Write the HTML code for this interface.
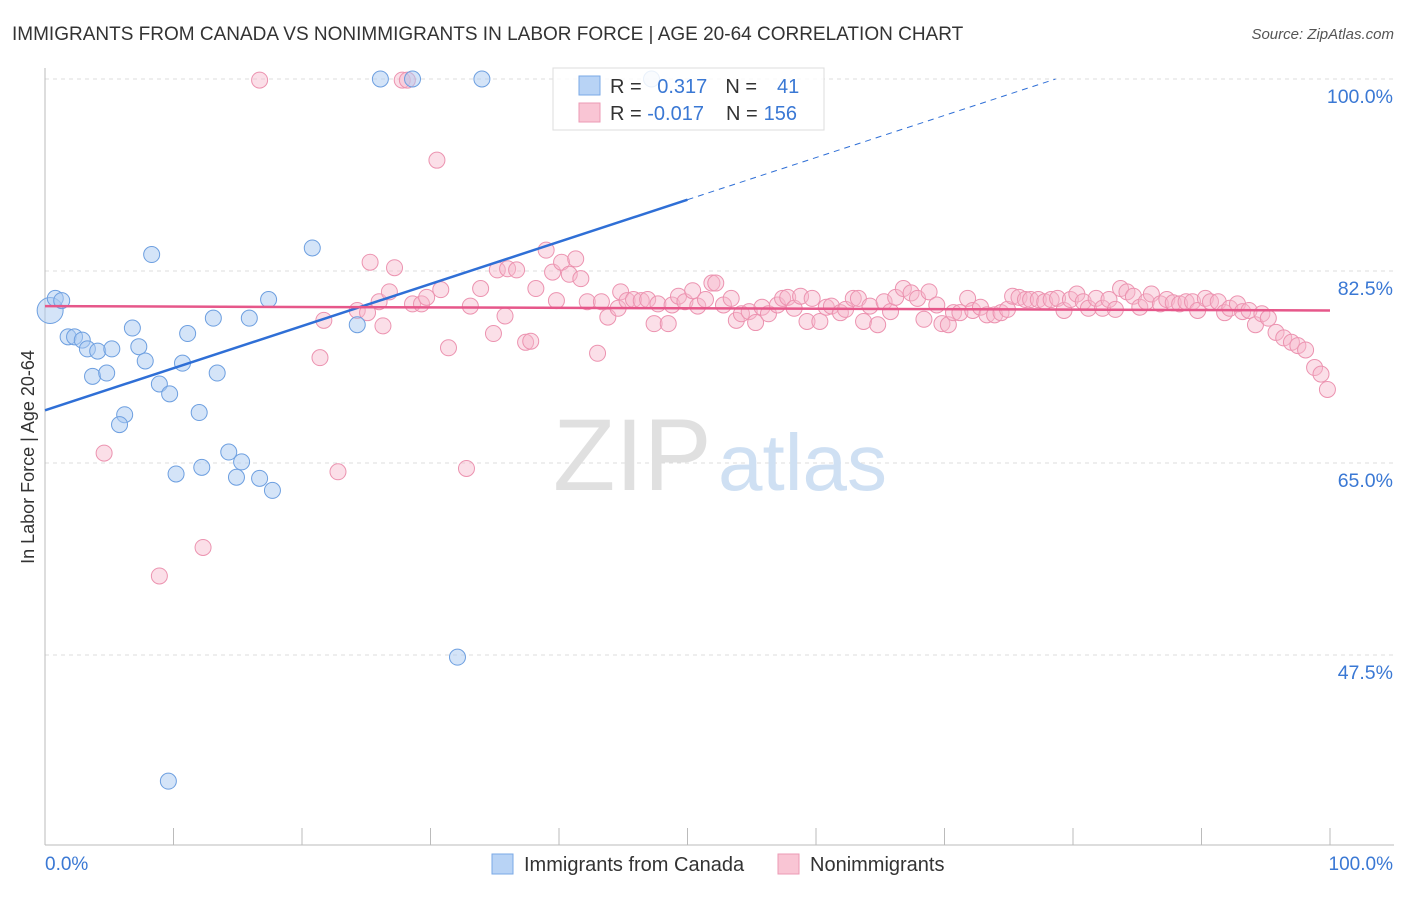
<!DOCTYPE html>
<html><head><meta charset="utf-8"><style>
body{margin:0;background:#fff;font-family:"Liberation Sans",sans-serif;}
svg text{font-family:"Liberation Sans",sans-serif;}
</style></head><body>
<svg id="chart" width="1406" height="892" xmlns="http://www.w3.org/2000/svg">
<text x="12" y="40" font-size="19" fill="#333">IMMIGRANTS FROM CANADA VS NONIMMIGRANTS IN LABOR FORCE | AGE 20-64 CORRELATION CHART</text>
<text x="1394" y="39" font-size="15" fill="#555" text-anchor="end" font-style="italic">Source: ZipAtlas.com</text>
<text transform="translate(34,457) rotate(-90)" font-size="18" fill="#333" text-anchor="middle">In Labor Force | Age 20-64</text>
<g id="grid"></g>
<g id="axes"></g>
<text x="553" y="490" font-size="102" fill="#e0e0e0" font-family="Liberation Serif">ZIP</text>
<text x="718" y="490" font-size="80" fill="#cfe0f3">atlas</text>
<g id="marks"></g>
<g>
<rect x="553" y="68" width="271" height="62" fill="#fff" fill-opacity="0.85" stroke="#ddd"/>
<rect x="579" y="76" width="21" height="19" fill="#b8d3f5" stroke="#7aa8e6"/>
<rect x="579" y="103" width="21" height="19" fill="#f9c5d4" stroke="#ec9ab4"/>
<text x="610" y="93" font-size="20" fill="#333">R = <tspan fill="#3a78d4" dx="10">0.317</tspan><tspan dx="18" fill="#333">N =</tspan><tspan dx="20" fill="#3a78d4">41</tspan></text>
<text x="610" y="120" font-size="20" fill="#333">R = <tspan fill="#3a78d4">-0.017</tspan><tspan dx="22" fill="#333">N =</tspan><tspan dx="6" fill="#3a78d4">156</tspan></text>
</g>
<g>
<rect x="492" y="854" width="21" height="20" fill="#b8d3f5" stroke="#7aa8e6"/>
<text x="524" y="871" font-size="20" fill="#333">Immigrants from Canada</text>
<rect x="778" y="854" width="21" height="20" fill="#f9c5d4" stroke="#ec9ab4"/>
<text x="810" y="871" font-size="20" fill="#333">Nonimmigrants</text>
</g>
</svg>
<script>
const yTicks=[100,82.5,65,47.5];
const yTickLabels=["100.0%","82.5%","65.0%","47.5%"];
const canX=[0.4,0.8,1.3,1.8,2.3,2.9,3.3,4.1,3.7,4.8,5.2,6.2,5.8,6.8,7.3,7.8,8.3,8.9,9.7,10.2,10.7,11.1,12.0,12.2,13.1,13.4,14.3,14.9,15.3,15.9,16.7,17.4,17.7,20.8,24.3,26.1,28.6,34.0,32.1,9.6,47.2];
const canY=[78.9,80.0,79.8,76.5,76.5,76.2,75.4,75.2,72.9,73.2,75.4,69.4,68.5,77.3,75.6,74.3,84.0,72.2,71.3,64.0,74.1,76.8,69.6,64.6,78.2,73.2,66.0,63.7,65.1,78.2,63.6,79.9,62.5,84.6,77.6,100,100,100,47.3,36.0,100];
const nonX=[16.7,27.8,28.2,30.5,4.6,8.9,12.3,22.8,32.8,21.4,25.3,27.2,21.7,24.3,25.1,26.0,26.3,26.8,28.6,29.3,29.7,30.8,31.4,33.1,33.9,34.9,35.2,36.0,36.7,35.8,37.4,37.8,38.2,39.0,39.5,40.2,40.8,41.3,41.7,39.8,42.2,43.0,43.3,43.8,44.6,44.8,45.3,45.8,46.4,46.9,47.4,47.7,48.5,48.8,49.3,49.8,50.4,50.8,51.4,51.9,52.2,52.8,53.4,53.8,54.2,54.8,55.3,55.8,56.3,57.0,57.4,57.8,58.3,58.8,59.3,59.7,60.3,60.8,61.2,61.9,62.3,62.9,63.3,63.7,64.2,64.8,65.3,65.8,66.2,66.8,67.4,67.9,68.4,68.8,69.4,69.8,70.3,70.7,71.2,71.8,72.2,72.8,73.3,73.9,74.4,74.9,75.3,75.8,76.3,76.7,77.3,77.8,78.3,78.8,79.3,79.8,80.3,80.8,81.2,81.8,82.3,82.8,83.3,83.7,84.2,84.7,85.2,85.7,86.1,86.8,87.3,87.8,88.3,88.8,89.3,89.7,90.3,90.7,91.3,91.8,92.2,92.8,93.2,93.7,94.2,94.7,95.2,95.8,96.4,97.0,97.5,98.1,98.8,99.3,99.8];
const nonY=[99.9,99.9,99.9,92.6,65.9,54.7,57.3,64.2,64.5,74.6,83.3,82.8,78.0,78.9,78.7,79.7,77.5,80.6,79.5,79.5,80.1,80.8,75.5,79.3,80.9,76.8,82.6,82.7,82.6,78.4,76.0,76.1,80.9,84.4,82.4,83.3,82.2,83.6,81.8,79.8,79.7,75.0,79.7,78.3,79.1,80.6,79.8,79.9,79.8,79.9,77.7,79.5,77.7,79.4,80.2,79.7,80.7,79.3,79.9,81.4,81.4,79.4,80.0,78.0,78.6,78.8,77.8,79.2,78.6,79.4,80.0,80.1,79.1,80.2,77.9,80.0,77.9,79.2,79.3,78.7,79.0,80.0,80.0,77.9,79.3,77.6,79.7,78.8,80.1,80.9,80.5,80.0,78.1,80.6,79.4,77.7,77.6,78.7,78.7,80.0,78.9,79.2,78.5,78.5,78.7,79.0,80.2,80.1,79.9,79.9,79.9,79.7,79.9,80.0,78.9,79.9,80.4,79.7,79.1,80.0,79.1,79.9,79.0,80.9,80.6,80.2,79.2,79.7,80.4,79.5,79.9,79.6,79.5,79.7,79.7,78.9,80.0,79.7,79.7,78.7,79.1,79.5,78.8,78.9,77.6,78.6,78.2,76.9,76.4,76.0,75.7,75.3,73.7,73.1,71.7];
const canTrend=[69.8,0.384];
const nonTrend=[79.3,-0.004];
const NS="http://www.w3.org/2000/svg";
const X=v=>45+v*12.85, Y=v=>79+(100-v)*10.971;
function mk(tag,attrs,parent){const e=document.createElementNS(NS,tag);for(const k in attrs)e.setAttribute(k,attrs[k]);parent.appendChild(e);return e;}
const grid=document.getElementById('grid'),axes=document.getElementById('axes'),marks=document.getElementById('marks');
yTicks.forEach((t,i)=>{
 const l=mk('line',{x1:45,x2:1394,y1:Y(t),y2:Y(t),stroke:'#ddd','stroke-dasharray':'4,4'},grid);
 
 
 const tx=mk('text',{x:1393,y:Y(t)+24,'font-size':19.5,fill:'#3a78d4','text-anchor':'end'},axes);
 tx.textContent=yTickLabels[i];
 
 
});
mk('line',{x1:45,x2:45,y1:68,y2:845,stroke:'#bbb'},axes);
mk('line',{x1:45,x2:1394,y1:845,y2:845,stroke:'#bbb'},axes);
for(let i=0;i<=10;i++){const t=mk('line',{x1:X(i*10),x2:X(i*10),y1:828,y2:845,stroke:'#bbb'},axes);
 
 }
let t0=mk('text',{x:45,y:870,'font-size':19,fill:'#3a78d4'},axes);t0.textContent='0.0%';


let t1=mk('text',{x:1393,y:870,'font-size':19,fill:'#3a78d4','text-anchor':'end'},axes);t1.textContent='100.0%';


nonX.forEach((x,i)=>{const c=mk('circle',{cx:X(x),cy:Y(nonY[i]),r:8,fill:'#f7b8cb','fill-opacity':0.45,stroke:'#ec93b0','stroke-width':1},marks);
 
 });
canX.forEach((x,i)=>{const c=mk('circle',{cx:X(x),cy:Y(canY[i]),r:i==0?13:8,fill:'#aac9f2','fill-opacity':0.5,stroke:'#6d9fe0','stroke-width':1},marks);
 
 });
const cy=x=>canTrend[0]+canTrend[1]*x;
const xEnd=(100-canTrend[0])/canTrend[1];
let a=mk('line',{x1:X(0),y1:Y(cy(0)),x2:X(50),y2:Y(cy(50)),stroke:'#2f6fd6','stroke-width':2.5},marks);


let b=mk('line',{x1:X(50),y1:Y(cy(50)),x2:X(xEnd),y2:Y(100),stroke:'#2f6fd6','stroke-width':1,'stroke-dasharray':'6,5'},marks);


let p=mk('line',{x1:X(0),y1:Y(nonTrend[0]),x2:X(100),y2:Y(nonTrend[0]+nonTrend[1]*100),stroke:'#e6578a','stroke-width':2.5},marks);


</script>
</body></html>
